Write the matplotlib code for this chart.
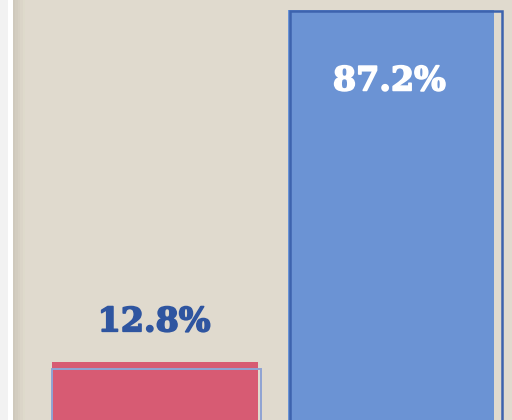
import matplotlib.pyplot as plt
import matplotlib.patheffects as pe
from matplotlib.patches import Rectangle

# chart data
categories = ["A", "B"]
values = [12.8, 87.2]
labels = ["12.8%", "87.2%"]
fill_colors = ["#d75b73", "#6b93d4"]
edge_colors = ["#8fa3d4", "#3d63ae"]
label_colors = ["#2f55a0", "#ffffff"]

BG = "#e0dace"

fig = plt.figure(figsize=(5.12, 4.2), dpi=100)
fig.patch.set_facecolor(BG)


def strip(x0, w, color):
    fig.add_artist(Rectangle((x0 / 512, 0), w / 512, 1, transform=fig.transFigure,
                             facecolor=color, edgecolor="none", zorder=0))


# left margin strips (page edge)
strip(0, 8, "#f2f2f2")
strip(8, 5, "#ffffff")
shades = ["#cfc9bc", "#d3cdc0", "#d7d1c4", "#dbd5c8", "#dedacb"]
for i, c in enumerate(shades):
    strip(13 + i * 2.4, 2.4, c)

ax = fig.add_axes([0, 0, 1, 1])
ax.set_facecolor("none")
ax.set_xlim(-0.657, 1.513)
ax.set_ylim(0.55, 89.3)
ax.axis("off")

x = list(range(len(categories)))

# filled bars
ax.bar(x, values, width=0.873, color=fill_colors, edgecolor="none", zorder=2)

# offset outline frames drawn over the bars
outline_shift = [0.006, 0.021]
outline_drop = [1.45, 0.2]
outline_width = [0.886, 0.898]
for i in x:
    ax.bar(i + outline_shift[i], values[i] - outline_drop[i], width=outline_width[i],
           facecolor="none", edgecolor=edge_colors[i],
           linewidth=1.4 if i == 0 else 1.8, zorder=3)

# value labels
label_y = [values[0] + 8.5, values[1] - 15.0]
for i in x:
    ax.text(i - 0.003 * (i + 1), label_y[i], labels[i], ha="center", va="center",
            fontsize=24, fontweight="bold", family="DejaVu Serif",
            color=label_colors[i], zorder=4,
            path_effects=[pe.withStroke(linewidth=1.2, foreground=label_colors[i])])

fig.savefig("out.png", dpi=100, facecolor=fig.get_facecolor())
